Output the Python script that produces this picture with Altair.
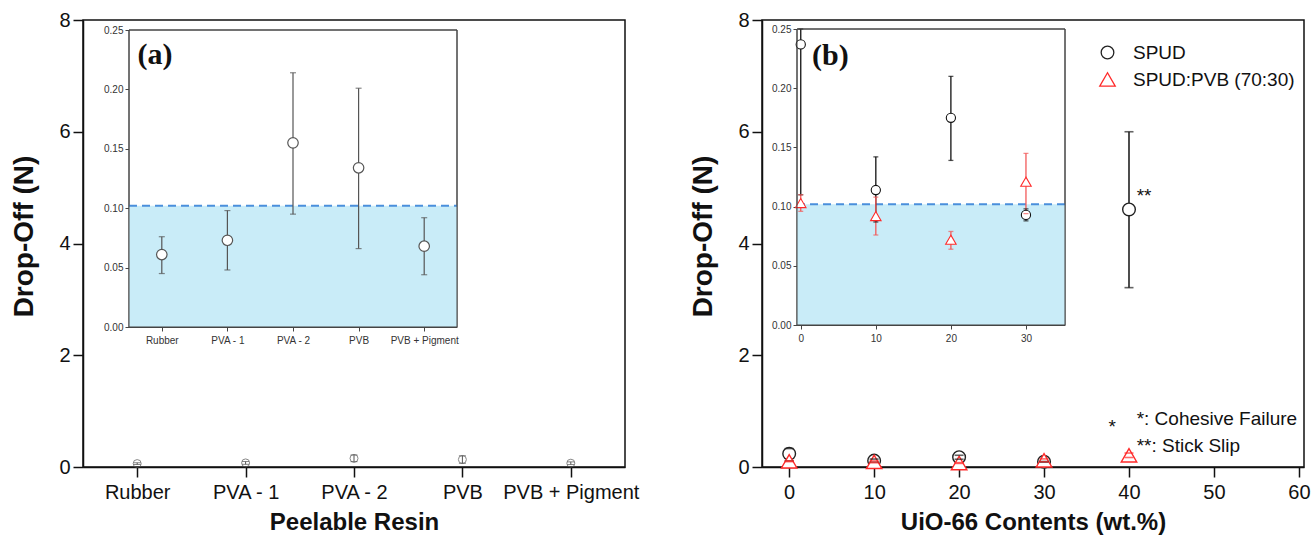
import json
import altair as alt
import pandas as pd

# ---------------- data ----------------
resins = ["Rubber", "PVA - 1", "PVA - 2", "PVB", "PVB + Pigment"]
resin_mean = [0.061, 0.073, 0.155, 0.134, 0.068]
resin_lo = [0.045, 0.048, 0.095, 0.066, 0.044]
resin_hi = [0.076, 0.098, 0.214, 0.201, 0.092]

uio = [0, 10, 20, 30, 40]
spud_mean = [0.237, 0.114, 0.175, 0.093, 4.61]
spud_lo = [0.110, 0.087, 0.139, 0.088, 3.21]
spud_hi = [0.330, 0.142, 0.210, 0.098, 6.00]
pvb_mean = [0.103, 0.092, 0.072, 0.121, 0.21]
pvb_lo = [0.096, 0.076, 0.064, 0.094, 0.17]
pvb_hi = [0.110, 0.108, 0.079, 0.145, 0.25]

series_names = ["SPUD", "SPUD:PVB (70:30)"]
threshold = 0.102

main_y_ticks = [0, 2, 4, 6, 8]
inset_y_ticks = [0.0, 0.05, 0.10, 0.15, 0.20, 0.25]
main_b_x_ticks = [0, 10, 20, 30, 40, 50, 60]
inset_b_x_ticks = [0, 10, 20, 30]

notes = ["*: Cohesive Failure", "**: Stick Slip"]

# ---------------- layout ----------------
W, H = 1311, 548
FONT = "Liberation Sans"
SERIF = "Liberation Serif"

PA_X, MAIN_Y = [83, 625], [467, 20]
PB_X = [762, 1304]
IA_X, IA_Y = [129, 457], [327, 30]
IB_X, IB_Y = [797, 1065], [325, 29]

A_XD = [-0.5, 4.5]
MAIN_YD = [0, 8]
B_XD = [-3.2, 60.6]
IB_XD = [-0.5, 35.2]
IN_YD = [0, 0.25]

BLACK = "#111111"
RED = "#ff2a2a"
RED_LIGHT = "#f25a5a"
GREY = "#555555"
BLUE_FILL = "#c9ecf8"
BLUE_LINE = "#4a8fdc"

label_expr = json.dumps(resins) + "[datum.value]"


def sc(domain, rng, clamp=False):
    return alt.Scale(domain=domain, range=rng, nice=False, zero=False, clamp=clamp)


def main_y_axis(offset):
    return alt.Axis(orient="left", offset=offset, values=main_y_ticks, format="d",
                    tickSize=10, tickWidth=1.5, tickColor=BLACK, domainColor=BLACK,
                    domainWidth=1.5, labelFont=FONT, labelFontSize=20, labelColor=BLACK,
                    labelPadding=3, grid=False, title="Drop-Off (N)", titleFont=FONT,
                    titleFontSize=28, titleFontWeight="bold", titleColor=BLACK,
                    titleX=-59, titleY=236, titleAlign="center", titleBaseline="middle")


def main_x_axis(values, title, label_expr_=None, fmt="d"):
    kw = dict(orient="bottom", offset=-(H - MAIN_Y[0]), values=values,
              tickSize=10, tickWidth=1.5, tickColor=BLACK, domainColor=BLACK,
              domainWidth=1.5, labelFont=FONT, labelFontSize=20, labelColor=BLACK,
              labelPadding=5, labelFlush=False, labelOverlap=False, grid=False,
              title=title, titleFont=FONT, titleFontSize=24, titleFontWeight="bold",
              titleColor=BLACK, titleY=55, titleBaseline="middle")
    if label_expr_:
        kw["labelExpr"] = label_expr_
    else:
        kw["format"] = fmt
    return alt.Axis(**kw)


def inset_y_axis(offset):
    return alt.Axis(orient="left", offset=offset, values=inset_y_ticks, format=".2f",
                    tickSize=4, tickWidth=1, tickColor="#444", domainColor="#444",
                    domainWidth=1, labelFont=FONT, labelFontSize=10, labelColor="#333",
                    labelPadding=2, grid=False, title=None)


def inset_x_axis(offset, values, label_expr_=None):
    kw = dict(orient="bottom", offset=offset, values=values, tickSize=4, tickWidth=1,
              tickColor="#444", domainColor="#444", domainWidth=1, labelFont=FONT,
              labelFontSize=10, labelColor="#333", labelPadding=4, labelFlush=False,
              labelOverlap=False, grid=False, title=None)
    if label_expr_:
        kw["labelExpr"] = label_expr_
    else:
        kw["format"] = "d"
    return alt.Axis(**kw)


# ---------------- tables ----------------
df_a = pd.DataFrame({"idx": list(range(len(resins))), "resin": resins,
                     "mean": resin_mean, "lo": resin_lo, "hi": resin_hi})
rows = []
for s, m, lo, hi in [(series_names[0], spud_mean, spud_lo, spud_hi),
                     (series_names[1], pvb_mean, pvb_lo, pvb_hi)]:
    for u, a, b, c in zip(uio, m, lo, hi):
        rows.append({"uio": u, "series": s, "mean": a, "lo": b, "hi": c})
df_b = pd.DataFrame(rows)
df_bi = df_b[df_b["uio"] <= IB_XD[1]]

layers = []


def frame(xd, yd):
    return pd.DataFrame({"x0": [xd[0]], "x1": [xd[1]], "y0": [yd[0]], "y1": [yd[1]]})


# ---------- main panel (a) ----------
layers.append(alt.Chart(frame(A_XD, MAIN_YD)).mark_rect(
    fillOpacity=0, stroke=BLACK, strokeWidth=1.5).encode(
    x=alt.X("x0:Q", scale=sc(A_XD, PA_X), axis=main_x_axis(list(range(5)), "Peelable Resin", label_expr)),
    x2="x1:Q",
    y=alt.Y("y0:Q", scale=sc(MAIN_YD, MAIN_Y), axis=main_y_axis(-PA_X[0])),
    y2="y1:Q"))

# ---------- main panel (b) ----------
layers.append(alt.Chart(frame(B_XD, MAIN_YD)).mark_rect(
    fillOpacity=0, stroke=BLACK, strokeWidth=1.5).encode(
    x=alt.X("x0:Q", scale=sc(B_XD, PB_X), axis=main_x_axis(main_b_x_ticks, "UiO-66 Contents (wt.%)")),
    x2="x1:Q",
    y=alt.Y("y0:Q", scale=sc(MAIN_YD, MAIN_Y), axis=main_y_axis(-PB_X[0])),
    y2="y1:Q"))


def inset_layers(xd, xr, yr, xaxis, yaxis):
    out = []
    out.append(alt.Chart(frame(xd, IN_YD)).mark_rect(fill="white", stroke="#444", strokeWidth=1).encode(
        x=alt.X("x0:Q", scale=sc(xd, xr), axis=xaxis), x2="x1:Q",
        y=alt.Y("y0:Q", scale=sc(IN_YD, yr), axis=yaxis), y2="y1:Q"))
    out.append(alt.Chart(frame(xd, [0, threshold])).mark_rect(fill=BLUE_FILL).encode(
        x=alt.X("x0:Q", scale=sc(xd, xr), axis=None), x2="x1:Q",
        y=alt.Y("y0:Q", scale=sc(IN_YD, yr), axis=None), y2="y1:Q"))
    out.append(alt.Chart(frame(xd, [threshold, threshold])).mark_rule(
        color=BLUE_LINE, strokeWidth=2, strokeDash=[8, 5]).encode(
        x=alt.X("x0:Q", scale=sc(xd, xr), axis=None), x2="x1:Q",
        y=alt.Y("y0:Q", scale=sc(IN_YD, yr), axis=None)))
    return out


# ---------- inset (a) ----------
layers += inset_layers(A_XD, IA_X, IA_Y,
                       inset_x_axis(-(H - IA_Y[0]), list(range(5)), label_expr),
                       inset_y_axis(-IA_X[0]))
ia_x = alt.X("idx:Q", scale=sc(A_XD, IA_X), axis=None)
layers.append(alt.Chart(df_a).mark_rule(color=GREY, strokeWidth=1.2).encode(
    x=ia_x, y=alt.Y("lo:Q", scale=sc(IN_YD, IA_Y, True), axis=None), y2="hi:Q"))
for f in ["lo", "hi"]:
    layers.append(alt.Chart(df_a).mark_tick(orient="horizontal", size=6, thickness=1.2, color=GREY).encode(
        x=ia_x, y=alt.Y(f"{f}:Q", scale=sc(IN_YD, IA_Y, True), axis=None)))
layers.append(alt.Chart(df_a).mark_point(shape="circle", size=110, filled=True, color="white",
                                         stroke=GREY, strokeWidth=1.2, opacity=1).encode(
    x=ia_x, y=alt.Y("mean:Q", scale=sc(IN_YD, IA_Y, True), axis=None)))
layers.append(alt.Chart(frame(A_XD, IN_YD)).mark_rect(fillOpacity=0, stroke="#444", strokeWidth=1).encode(
    x=alt.X("x0:Q", scale=sc(A_XD, IA_X), axis=None), x2="x1:Q",
    y=alt.Y("y0:Q", scale=sc(IN_YD, IA_Y), axis=None), y2="y1:Q"))
layers.append(alt.Chart(pd.DataFrame({"x": [-0.37], "y": [0.229], "t": ["(a)"]})).mark_text(
    font=SERIF, fontSize=30, fontWeight="bold", align="left", baseline="middle", color=BLACK).encode(
    x=alt.X("x:Q", scale=sc(A_XD, IA_X), axis=None),
    y=alt.Y("y:Q", scale=sc(IN_YD, IA_Y), axis=None), text="t:N"))

# ---------- inset (b) ----------
layers += inset_layers(IB_XD, IB_X, IB_Y,
                       inset_x_axis(-(H - IB_Y[0]), inset_b_x_ticks),
                       inset_y_axis(-IB_X[0]))
ib_x = alt.X("uio:Q", scale=sc(IB_XD, IB_X), axis=None)
for s, col in [(series_names[0], BLACK), (series_names[1], RED_LIGHT)]:
    d = df_bi[df_bi["series"] == s]
    layers.append(alt.Chart(d).mark_rule(color=col, strokeWidth=1.3).encode(
        x=ib_x, y=alt.Y("lo:Q", scale=sc(IN_YD, IB_Y, True), axis=None), y2="hi:Q"))
for s, col, shp, sz in [(series_names[0], BLACK, "circle", 85), (series_names[1], RED, "triangle-up", 110)]:
    d = df_bi[df_bi["series"] == s]
    layers.append(alt.Chart(d).mark_point(shape=shp, size=sz, filled=True, color="white",
                                          stroke=col, strokeWidth=1.1, opacity=1).encode(
        x=ib_x, y=alt.Y("mean:Q", scale=sc(IN_YD, IB_Y, True), axis=None)))
for s, col in [(series_names[0], BLACK), (series_names[1], RED_LIGHT)]:
    d = df_bi[df_bi["series"] == s]
    for f in ["lo", "hi"]:
        layers.append(alt.Chart(d).mark_tick(orient="horizontal", size=5, thickness=1.3, color=col).encode(
            x=ib_x, y=alt.Y(f"{f}:Q", scale=sc(IN_YD, IB_Y, True), axis=None)))
layers.append(alt.Chart(frame(IB_XD, IN_YD)).mark_rect(fillOpacity=0, stroke="#444", strokeWidth=1).encode(
    x=alt.X("x0:Q", scale=sc(IB_XD, IB_X), axis=None), x2="x1:Q",
    y=alt.Y("y0:Q", scale=sc(IN_YD, IB_Y), axis=None), y2="y1:Q"))
layers.append(alt.Chart(pd.DataFrame({"x": [1.5], "y": [0.227], "t": ["(b)"]})).mark_text(
    font=SERIF, fontSize=30, fontWeight="bold", align="left", baseline="middle", color=BLACK).encode(
    x=alt.X("x:Q", scale=sc(IB_XD, IB_X), axis=None),
    y=alt.Y("y:Q", scale=sc(IN_YD, IB_Y), axis=None), text="t:N"))

# ---------- main (a) points near zero ----------
ma_x = alt.X("idx:Q", scale=sc(A_XD, PA_X), axis=None)
layers.append(alt.Chart(df_a).mark_rule(color=GREY, strokeWidth=1).encode(
    x=ma_x, y=alt.Y("lo:Q", scale=sc(MAIN_YD, MAIN_Y), axis=None), y2="hi:Q"))
layers.append(alt.Chart(df_a).mark_point(shape="circle", size=64, filled=False, color=GREY, strokeWidth=1).encode(
    x=ma_x, y=alt.Y("mean:Q", scale=sc(MAIN_YD, MAIN_Y), axis=None)))
for f in ["lo", "hi"]:
    layers.append(alt.Chart(df_a).mark_tick(orient="horizontal", size=7, thickness=1, color=GREY).encode(
        x=ma_x, y=alt.Y(f"{f}:Q", scale=sc(MAIN_YD, MAIN_Y), axis=None)))

# ---------- main (b) points ----------
mb_x = alt.X("uio:Q", scale=sc(B_XD, PB_X), axis=None)
for s, col in [(series_names[0], "#222"), (series_names[1], RED)]:
    d = df_b[df_b["series"] == s]
    layers.append(alt.Chart(d).mark_rule(color=col, strokeWidth=1.6).encode(
        x=mb_x, y=alt.Y("lo:Q", scale=sc(MAIN_YD, MAIN_Y), axis=None), y2="hi:Q"))

legend_kw = dict(orient="none", legendX=1098, legendY=43, title=None,
                 labelFont=FONT, labelFontSize=19, labelColor=BLACK, labelLimit=400,
                 labelOffset=16, rowPadding=7, padding=0,
                 symbolSize=110, symbolStrokeWidth=1.3)
layers.append(alt.Chart(df_b).mark_point(filled=False, fill="white", fillOpacity=1, strokeWidth=1.4, opacity=1).encode(
    x=mb_x, y=alt.Y("mean:Q", scale=sc(MAIN_YD, MAIN_Y), axis=None),
    color=alt.Color("series:N", scale=alt.Scale(domain=series_names, range=["#222", RED]),
                    legend=alt.Legend(**legend_kw)),
    shape=alt.Shape("series:N", scale=alt.Scale(domain=series_names, range=["circle", "triangle-up"]),
                    legend=alt.Legend(**legend_kw)),
    size=alt.Size("series:O", scale=alt.Scale(domain=series_names, range=[160, 240]), legend=None)))
for s, col in [(series_names[0], "#222"), (series_names[1], RED)]:
    d = df_b[df_b["series"] == s]
    for f in ["lo", "hi"]:
        layers.append(alt.Chart(d).mark_tick(orient="horizontal", size=9, thickness=1.6, color=col).encode(
            x=mb_x, y=alt.Y(f"{f}:Q", scale=sc(MAIN_YD, MAIN_Y), axis=None)))

# ---------- annotations (b) ----------
layers.append(alt.Chart(pd.DataFrame({"x": [40.9, 40.9], "y": [0.86, 0.37], "t": notes})).mark_text(
    font=FONT, fontSize=19, align="left", baseline="middle", color=BLACK).encode(
    x=alt.X("x:Q", scale=sc(B_XD, PB_X), axis=None),
    y=alt.Y("y:Q", scale=sc(MAIN_YD, MAIN_Y), axis=None), text="t:N"))
layers.append(alt.Chart(pd.DataFrame({"x": [37.6, 40.9], "y": [0.72, 4.85], "t": ["*", "**"]})).mark_text(
    font=FONT, fontSize=19, align="left", baseline="middle", color=BLACK).encode(
    x=alt.X("x:Q", scale=sc(B_XD, PB_X), axis=None),
    y=alt.Y("y:Q", scale=sc(MAIN_YD, MAIN_Y), axis=None), text="t:N"))

chart = alt.layer(*layers).resolve_scale(
    x="independent", y="independent").resolve_axis(
    x="independent", y="independent").properties(
    width=W, height=H, padding=0, autosize=alt.AutoSizeParams(type="none")).configure_view(
    strokeOpacity=0)

chart.save("out.html", embed_options={"renderer": "svg", "actions": False})
